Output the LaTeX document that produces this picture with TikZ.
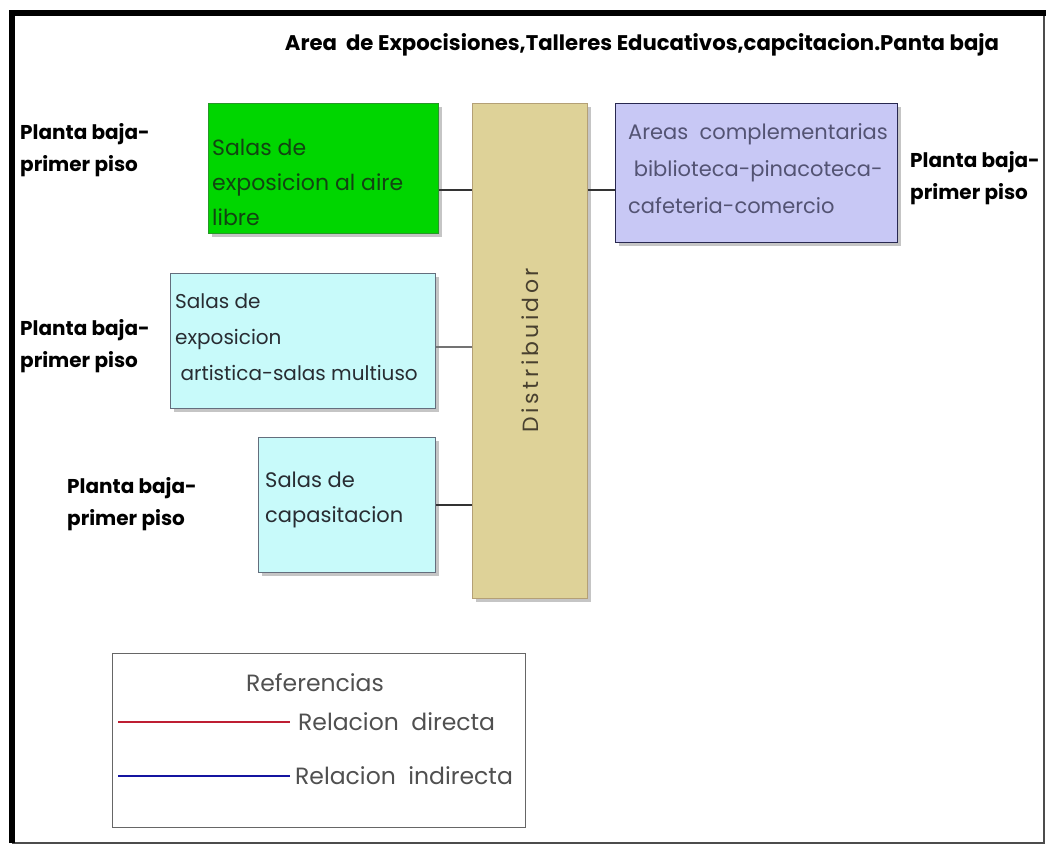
\documentclass[tikz,border=0pt]{standalone}
\usepackage{fontspec}
\setmainfont{Poppins}
\usetikzlibrary{shadows,calc}
\definecolor{grn}{RGB}{0,214,0}
\definecolor{grnb}{RGB}{40,150,40}
\definecolor{aqua}{RGB}{200,250,250}
\definecolor{aquab}{RGB}{100,110,125}
\definecolor{lav}{RGB}{200,200,245}
\definecolor{lavb}{RGB}{40,40,80}
\definecolor{tan}{RGB}{222,210,152}
\definecolor{tanb}{RGB}{180,160,118}
\definecolor{redl}{RGB}{190,30,50}
\definecolor{bluel}{RGB}{20,20,160}
\definecolor{txt}{RGB}{80,80,80}
\tikzset{
  box/.style={draw, line width=1.2pt, anchor=north west, inner sep=0pt,
    drop shadow={opacity=0.45, shadow xshift=3pt, shadow yshift=-3pt}},
  boxtext/.style={anchor=north west, inner sep=0pt, align=left, text=txt,
    font=\fontsize{21}{35}\selectfont},
  floor/.style={anchor=west, inner sep=0pt, align=left, text=black,
    font=\fontsize{20}{32}\selectfont\bfseries},
  link/.style={draw=black!80, line width=1.4pt},
  legtext/.style={inner sep=0pt, text=txt, font=\fontsize{23.5}{28}\selectfont},
}
\begin{document}
\begin{tikzpicture}[x=1pt,y=-1pt]
\useasboundingbox (0,0) rectangle (1046,846);
\fill[white] (0,0) rectangle (1046,846);
% frame
\draw[black!70, line width=2pt] (1044,13) -- (1044,843) -- (12,843);
\draw[black, line width=6pt] (12,843) -- (12,13) -- (1046,13);

% title
\node[anchor=center, inner sep=0pt, font=\fontsize{21.2}{24}\selectfont\bfseries] (title) at (642,45)
  {Area\ \ de Expocisiones,Talleres Educativos,capcitacion.Panta baja};

% distributor
\node[box, draw=tanb, fill=tan, minimum width=115pt, minimum height=495pt] (dist) at (472,103) {};
\node[rotate=90, inner sep=0pt, text=black!60!tanb, font=\fontsize{22}{24}\selectfont\addfontfeatures{LetterSpace=16}] (distt) at (530,350) {Distribuidor};

% boxes
\node[box, draw=grnb, fill=grn, minimum width=230pt, minimum height=130pt] (green) at (208,103) {};
\node[boxtext, text=black!55!grnb, font=\fontsize{22}{35}\selectfont] (greent) at (212,139) {Salas de\\exposicion al aire\\libre};

\node[box, draw=aquab, fill=aqua, minimum width=265pt, minimum height=135pt] (aq1) at (170,273) {};
\node[boxtext, text=black!60!aquab, font=\fontsize{20}{36}\selectfont] (aq1t) at (175,293) {Salas de\\exposicion\\\ artistica-salas multiuso};

\node[box, draw=aquab, fill=aqua, minimum width=177pt, minimum height=135pt] (aq2) at (258,437) {};
\node[boxtext, text=black!60!aquab] (aq2t) at (265,472) {Salas de\\capasitacion};

\node[box, draw=lavb, fill=lav, minimum width=282pt, minimum height=139pt] (lavbox) at (615,103) {};
\node[boxtext, text=lavb!80, font=\fontsize{21}{37}\selectfont] (lavt) at (628,123) {Areas\ \ complementarias\\\ biblioteca-pinacoteca-\\cafeteria-comercio};

% floor labels
\node[floor] (f1) at (20,150) {Planta baja-\\primer piso};
\node[floor] (f2) at (20,346) {Planta baja-\\primer piso};
\node[floor] (f3) at (67,504) {Planta baja-\\primer piso};
\node[floor] (f4) at (910,178) {Planta baja-\\primer piso};

% connectors
\path (green.north east) ++(0,87) coordinate (g1);
\draw[link] (g1) -- (g1 -| dist.west);
\path (aq1.north east) ++(0,74) coordinate (a1);
\draw[link, draw=black!55] (a1) -- (a1 -| dist.west);
\path (aq2.north east) ++(0,68) coordinate (a2);
\draw[link] (a2) -- (a2 -| dist.west);
\path (lavbox.north west) ++(0,87) coordinate (l1);
\draw[link] (l1 -| dist.east) -- (l1);

% legend
\node[draw=black!60, line width=1.2pt, anchor=north west, minimum width=413pt, minimum height=174pt, inner sep=0pt] (legend) at (112,653) {};
\node[legtext] (reft) at (315,683) {Referencias};
\coordinate (r0) at (118,722);
\coordinate (r1) at (290,722);
\coordinate (b0) at (118,776);
\coordinate (b1) at (290,776);
\draw[redl, line width=2.2pt] (r0) -- (r1);
\draw[bluel, line width=2.2pt] (b0) -- (b1);
\node[legtext, anchor=west] (rd) at (298,722) {Relacion\ \ directa};
\node[legtext, anchor=west] (ri) at (295,776) {Relacion\ \ indirecta};
\end{tikzpicture}
\end{document}
